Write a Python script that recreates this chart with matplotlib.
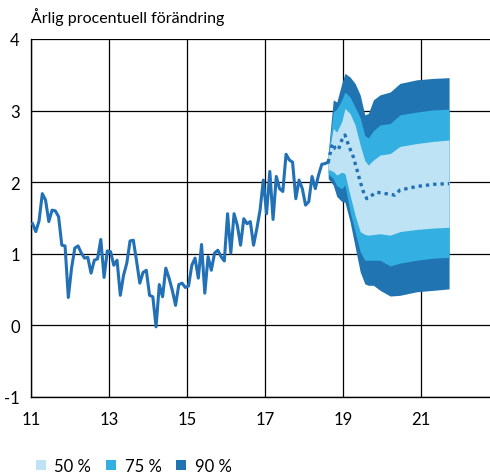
import numpy as np
import matplotlib
matplotlib.use("Agg")
import matplotlib.pyplot as plt
from matplotlib.patches import Patch

plt.rcParams['font.family'] = ['Lato', 'DejaVu Sans']
plt.rcParams['axes.unicode_minus'] = False

# Utfall, månadsdata från jan 2011
utfall = [1.42, 1.31, 1.46, 1.84, 1.75, 1.45, 1.61, 1.60, 1.52, 1.12, 1.11, 0.39,
          0.80, 1.08, 1.11, 1.01, 0.94, 0.95, 0.73, 0.91, 0.93, 1.20, 0.67, 1.04,
          1.03, 0.84, 0.91, 0.42, 0.70, 0.87, 1.18, 1.19, 0.90, 0.59, 0.74, 0.77,
          0.42, 0.40, -0.02, 0.57, 0.40, 0.80, 0.66, 0.49, 0.28, 0.57, 0.59, 0.53,
          0.55, 0.84, 0.94, 0.66, 1.13, 0.45, 0.96, 0.77, 1.01, 1.05, 0.96, 0.90,
          1.56, 1.01, 1.56, 1.40, 1.12, 1.49, 1.42, 1.45, 1.12, 1.35, 1.61, 2.03,
          1.56, 2.15, 1.48, 2.08, 1.91, 1.87, 2.39, 2.31, 2.28, 1.77, 2.03, 1.91,
          1.68, 1.73, 2.08, 1.91, 2.10, 2.25, 2.26, 2.28]
t_utfall = 11.04 + np.arange(len(utfall)) / 12

# Prognos, median
t_median = [18.62, 18.71, 18.75, 18.80, 18.88, 18.97, 19.05, 19.14, 19.26, 19.35, 19.44,
            19.52, 19.61, 19.69, 19.86, 20.10, 20.33, 20.46, 20.89, 21.32, 21.72]
median = [2.28, 2.50, 2.54, 2.47, 2.45, 2.59, 2.66, 2.52, 2.36, 2.19, 2.01,
          1.87, 1.77, 1.80, 1.86, 1.84, 1.82, 1.89, 1.94, 1.97, 1.98]

# Osäkerhetsintervall
t_fan = [18.62, 18.75, 18.84, 18.97, 19.05, 19.18, 19.31, 19.44, 19.56, 19.65,
         19.78, 19.95, 20.21, 20.46, 20.89, 21.32, 21.72]
upp90 = [2.40, 3.15, 3.12, 3.38, 3.52, 3.47, 3.38, 3.22, 2.94, 2.96, 3.15, 3.22, 3.26, 3.38, 3.43, 3.45, 3.46]
upp75 = [2.38, 2.98, 3.02, 3.15, 3.26, 3.19, 3.05, 2.90, 2.65, 2.62, 2.72, 2.80, 2.82, 2.94, 2.98, 3.01, 3.02]
upp50 = [2.35, 2.75, 2.70, 2.85, 3.03, 2.96, 2.80, 2.52, 2.30, 2.24, 2.31, 2.38, 2.40, 2.50, 2.54, 2.57, 2.59]
ned50 = [2.18, 2.15, 2.10, 2.14, 2.12, 1.82, 1.54, 1.31, 1.27, 1.26, 1.27, 1.28, 1.26, 1.31, 1.34, 1.36, 1.37]
ned75 = [2.12, 2.05, 1.95, 1.91, 1.96, 1.59, 1.31, 1.03, 0.91, 0.91, 0.91, 0.91, 0.83, 0.87, 0.91, 0.94, 0.95]
ned90 = [2.05, 1.96, 1.80, 1.73, 1.72, 1.45, 1.10, 0.75, 0.58, 0.56, 0.56, 0.49, 0.41, 0.42, 0.47, 0.49, 0.51]

c90 = "#1f74b1"
c75 = "#33b0e1"
c50 = "#bde3f5"
clinje = "#2270b5"

fig = plt.figure(figsize=(4.9, 4.77), dpi=100)
ax = fig.add_axes([31 / 490, 79 / 477, 1 - 31 / 490, 358 / 477])

ax.fill_between(t_fan, ned90, upp90, color=c90, lw=0, zorder=2)
ax.fill_between(t_fan, ned75, upp75, color=c75, lw=0, zorder=3)
ax.fill_between(t_fan, ned50, upp50, color=c50, lw=0, zorder=4)
ax.plot(t_utfall, utfall, color=clinje, lw=2.2, zorder=5)
ax.plot(t_median, median, color=clinje, lw=2.4, ls=(0, (1, 1.2)), zorder=6)

ax.set_xlim(11, 11 + 459 / 39)
ax.set_ylim(-1, 4)
ax.set_xticks([11, 13, 15, 17, 19, 21])
ax.set_yticks([-1, 0, 1, 2, 3, 4])
ax.grid(True, color="black", lw=0.9, zorder=1)
ax.set_axisbelow(True)
for s in ["top", "right"]:
    ax.spines[s].set_visible(False)
for s in ["left", "bottom"]:
    ax.spines[s].set_linewidth(1.0)
ax.tick_params(axis="x", length=0, pad=10, labelsize=12)
ax.tick_params(axis="y", length=0, pad=8, labelsize=12)

fig.text(31 / 490, 1 - 17 / 477, "Årlig procentuell förändring", fontsize=11.5, va="center", ha="left")

handles = [Patch(facecolor=c50, lw=0, label="50 %"), Patch(facecolor=c75, lw=0, label="75 %"),
           Patch(facecolor=c90, lw=0, label="90 %")]
fig.legend(handles=handles, loc="center left", bbox_to_anchor=(36 / 490, 1 - 467 / 477), ncol=3,
           frameon=False, fontsize=12, handlelength=0.6, handleheight=0.6, handletextpad=0.5,
           columnspacing=0.9, borderpad=0, borderaxespad=0)

fig.savefig("out.png", dpi=100)
